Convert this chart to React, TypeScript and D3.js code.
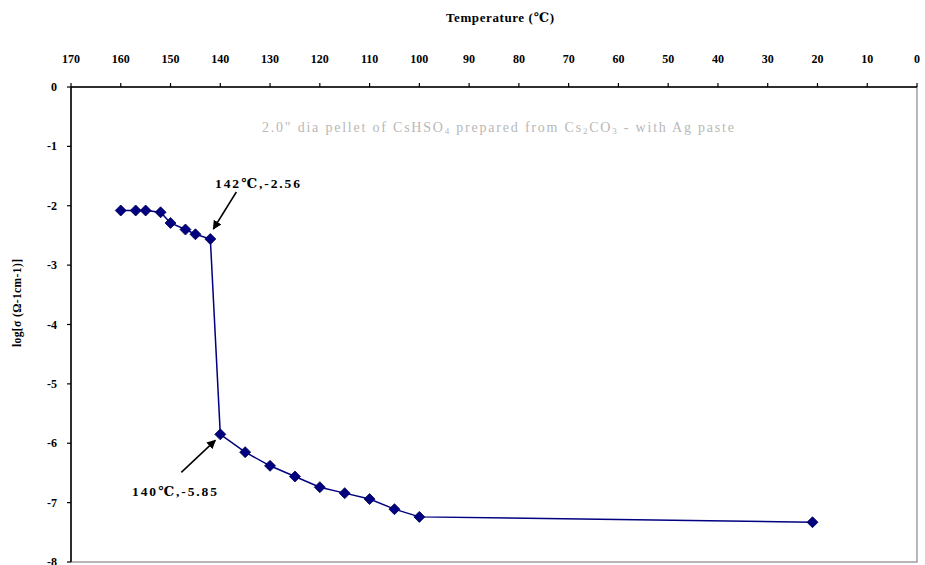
import React from "react";
import * as d3 from "d3";

const temps = [160, 157, 155, 152, 150, 147, 145, 142, 140, 135, 130, 125, 120, 115, 110, 105, 100, 21];
const logSigma = [-2.08, -2.08, -2.08, -2.11, -2.29, -2.4, -2.48, -2.56, -5.85, -6.15, -6.38, -6.56, -6.74, -6.84, -6.94, -7.11, -7.24, -7.33];
const xTicks = [170, 160, 150, 140, 130, 120, 110, 100, 90, 80, 70, 60, 50, 40, 30, 20, 10, 0];
const yTicks = [0, -1, -2, -3, -4, -5, -6, -7, -8];
const annotations = [
  { t: 142, v: -2.56, label: "142℃,-2.56" },
  { t: 140, v: -5.85, label: "140℃,-5.85" },
];

export default function App() {
  const W = 925, H = 565;
  const left = 71, right = 917, top = 87, bottom = 562;
  const x = d3.scaleLinear().domain([170, 0]).range([left, right]);
  const y = d3.scaleLinear().domain([0, -8]).range([top, bottom]);
  const pts = temps.map((t, i) => [t, logSigma[i]] as [number, number]);
  const line = d3.line<[number, number]>().x(d => x(d[0])).y(d => y(d[1]));
  const font = "'Liberation Serif', 'DejaVu Serif', serif";
  const diamond = (cx: number, cy: number, r: number) => `M${cx},${cy - r}L${cx + r},${cy}L${cx},${cy + r}L${cx - r},${cy}Z`;

  const a0 = annotations[0], a1 = annotations[1];
  const p0 = [x(a0.t), y(a0.v)], p1 = [x(a1.t), y(a1.v)];

  return (
    <svg width={W} height={H} style={{ position: "absolute", left: 0, top: 0, background: "#fff" }}>
      <defs>
        <marker id="ah" viewBox="0 0 10 10" refX="9" refY="5" markerWidth="9" markerHeight="9" markerUnits="userSpaceOnUse" orient="auto">
          <path d="M0,0L10,5L0,10Z" fill="#000" />
        </marker>
      </defs>
      <rect x={0} y={0} width={W} height={H} fill="#fff" />
      <rect x={left} y={top} width={right - left} height={bottom - top} fill="none" stroke="#888" strokeWidth={1.2} />
      <line x1={left} x2={right} y1={top} y2={top} stroke="#000" strokeWidth={1.5} />
      {xTicks.map(t => (
        <g key={t}>
          <line x1={x(t)} x2={x(t)} y1={top} y2={top - 4} stroke="#000" strokeWidth={1.2} />
          <text x={x(t)} y={63} textAnchor="middle" fontFamily={font} fontWeight="bold" fontSize={12}>{t}</text>
        </g>
      ))}
      <text x={500} y={22} textAnchor="middle" fontFamily={font} fontWeight="bold" fontSize={13} textLength={108} lengthAdjust="spacing">Temperature (℃)</text>
      <line x1={left} x2={left} y1={top} y2={bottom} stroke="#000" strokeWidth={1.5} />
      {yTicks.map(v => (
        <g key={v}>
          <line x1={left - 4} x2={left} y1={y(v)} y2={y(v)} stroke="#000" strokeWidth={1.2} />
          <text x={left - 14} y={y(v) + 4} textAnchor="end" fontFamily={font} fontWeight="bold" fontSize={12}>{v}</text>
        </g>
      ))}
      <text transform={`translate(21,303) rotate(-90)`} textAnchor="middle" fontFamily={font} fontWeight="bold" fontSize={11.5} textLength={88} lengthAdjust="spacing">log[σ (Ω-1cm-1)]</text>
      <text x={262} y={132} fontFamily={font} fontSize={14} fill="#b8b8b8" textLength={472} lengthAdjust="spacing">
        2.0" dia pellet of CsHSO<tspan fontSize={9} dy={2}>4</tspan><tspan dy={-2}> prepared from Cs</tspan><tspan fontSize={9} dy={2}>2</tspan><tspan dy={-2}>CO</tspan><tspan fontSize={9} dy={2}>3</tspan><tspan dy={-2}> - with Ag paste</tspan>
      </text>
      <path d={line(pts) || ""} fill="none" stroke="#000080" strokeWidth={1.5} />
      {pts.map((p, i) => (
        <path key={i} d={diamond(x(p[0]), y(p[1]), 5.5)} fill="#000080" stroke="#000050" strokeWidth={0.8} />
      ))}
      <line x1={p0[0] + 26} y1={p0[1] - 47} x2={p0[0] + 3} y2={p0[1] - 10} stroke="#000" strokeWidth={1.5} markerEnd="url(#ah)" />
      <text x={215} y={188} fontFamily={font} fontWeight="bold" fontSize={13.5} textLength={85} lengthAdjust="spacing">{a0.label}</text>
      <line x1={p1[0] - 39} y1={p1[1] + 38} x2={p1[0] - 5} y2={p1[1] + 6} stroke="#000" strokeWidth={1.5} markerEnd="url(#ah)" />
      <text x={132} y={496} fontFamily={font} fontWeight="bold" fontSize={13.5} textLength={85} lengthAdjust="spacing">{a1.label}</text>
    </svg>
  );
}
